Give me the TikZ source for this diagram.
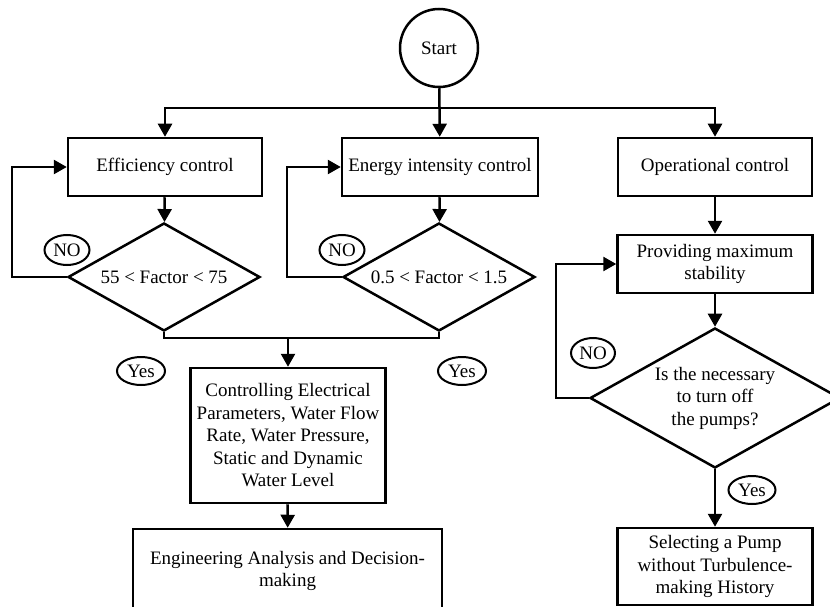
\documentclass[tikz,border=0pt]{standalone}
\usepackage{fontspec}
\setmainfont{Liberation Serif}
\usetikzlibrary{shapes.geometric,arrows.meta}
\begin{document}
\begin{tikzpicture}[x=1pt,y=-1pt,
  every node/.style={font=\fontsize{19}{22.5}\selectfont},
  box/.style={draw,line width=2.5pt,rectangle,align=center,inner sep=2pt},
  dia/.style={draw,line width=2.5pt,diamond,align=center,inner sep=0pt},
  lab/.style={draw,ellipse,line width=2pt,inner sep=0pt},
  arr/.style={line width=2.5pt,-{Triangle[length=13pt,width=14pt]}},
  ln/.style={line width=2.5pt}]
\useasboundingbox (0,0) rectangle (830,607);
\clip (0,0) rectangle (830,607);
% nodes
\node[draw,circle,line width=2.5pt,minimum size=78pt,inner sep=0pt] (start) at (439,48) {Start};
\node[box,minimum width=194pt,minimum height=58pt] (eff) at (165,167) {Efficiency control};
\node[box,minimum width=196pt,minimum height=58pt] (energy) at (440,167) {Energy intensity control};
\node[box,minimum width=194pt,minimum height=58pt] (oper) at (715,167) {Operational control};
\node[dia,shape aspect=1.8,minimum width=192pt,minimum height=108pt] (d1) at (164,277) {55 < Factor < 75};
\node[dia,shape aspect=1.8,minimum width=192pt,minimum height=108pt] (d2) at (439,277) {0.5 < Factor < 1.5};
\node[box,minimum width=195pt,minimum height=58pt] (prov) at (715,264) {Providing maximum\\stability};
\node[dia,shape aspect=1.8,minimum width=250pt,minimum height=140pt] (d3) at (715,398) {Is the necessary\\to turn off\\the pumps?};
\node[box,minimum width=195pt,minimum height=135pt] (ctrl) at (288,435.5) {Controlling Electrical\\Parameters, Water Flow\\Rate, Water Pressure,\\Static and Dynamic\\Water Level};
\node[box,minimum width=309pt,minimum height=84pt] (eng) at (287.5,571) {Engineering Analysis and Decision-\\making};
\node[box,minimum width=195pt,minimum height=77pt] (sel) at (715,566.5) {Selecting a Pump\\without Turbulence-\\making History};
% labels
\node[lab,minimum width=45pt,minimum height=30pt] (no1) at (67,250) {NO};
\node[lab,minimum width=45pt,minimum height=30pt] (no2) at (342,250) {NO};
\node[lab,minimum width=44pt,minimum height=30pt] (no3) at (593,353) {NO};
\node[lab,minimum width=48pt,minimum height=28pt] (yes1) at (141,371) {Yes};
\node[lab,minimum width=48pt,minimum height=28pt] (yes2) at (462,371) {Yes};
\node[lab,minimum width=47pt,minimum height=28pt] (yes3) at (752,490) {Yes};
% coordinates
\coordinate (split) at (439,108);
\coordinate (j1) at (164,338);
\coordinate (j2) at (439,338);
\coordinate (jm) at (288,338);
% connectors
\draw[arr] (start) -- (energy);
\draw[arr] (split) -| (eff);
\draw[arr] (split) -| (oper);
\draw[arr] (eff) -- (d1);
\draw[arr] (energy) -- (d2);
\draw[arr] (oper) -- (prov);
\draw[arr] (prov) -- (d3);
\draw[arr] (d3) -- (sel);
\draw[ln] (d1.south) -- (j1) -- (j2) -- (d2.south);
\draw[arr] (jm) -- (ctrl);
\draw[arr] (ctrl) -- (eng);
\draw[arr] (d1.west) -- ++(-55,0) |- (eff.west);
\draw[arr] (d2.west) -- ++(-55,0) |- (energy.west);
\draw[arr] (d3.west) -- ++(-33,0) |- (prov.west);
\end{tikzpicture}
\end{document}
